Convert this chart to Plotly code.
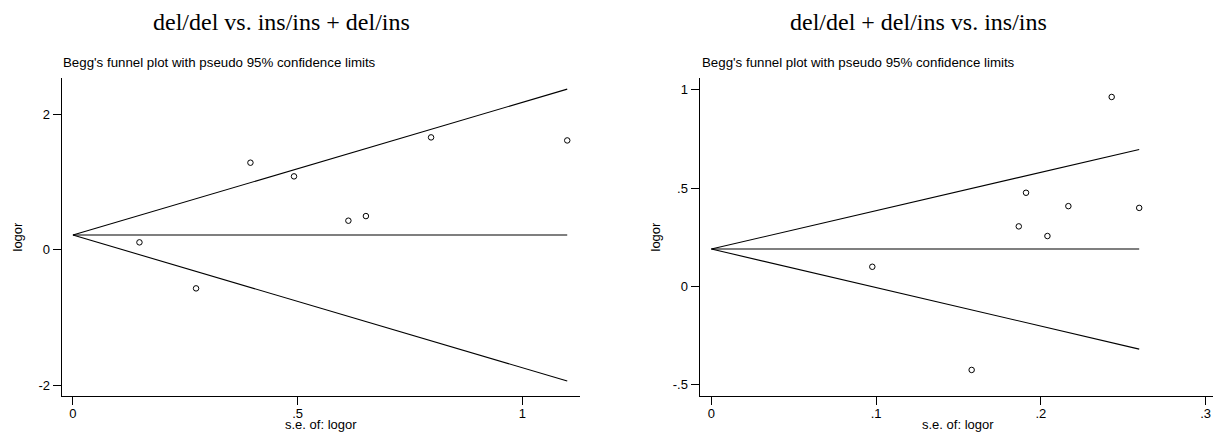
import plotly.graph_objects as go

W, H = 1213, 433

# ---- Panel 1: del/del vs. ins/ins + del/ins ----
se1 = [0.148, 0.274, 0.395, 0.492, 0.613, 0.652, 0.797, 1.100]
lor1 = [0.108, -0.572, 1.285, 1.083, 0.428, 0.496, 1.659, 1.614]
line_se1 = [0.0, 1.100]
upper1 = [0.216, 2.372]
lower1 = [0.216, -1.940]
center1 = [0.216, 0.216]

# ---- Panel 2: del/del + del/ins vs. ins/ins ----
se2 = [0.0977, 0.158, 0.1866, 0.191, 0.204, 0.2167, 0.243, 0.2597]
lor2 = [0.0996, -0.425, 0.305, 0.476, 0.256, 0.408, 0.963, 0.399]
line_se2 = [0.0, 0.2597]
upper2 = [0.190, 0.696]
lower2 = [0.190, -0.319]
center2 = [0.190, 0.190]

titles = ["del/del vs. ins/ins + del/ins", "del/del + del/ins vs. ins/ins"]
subtitle = "Begg's funnel plot with pseudo 95% confidence limits"
xlabel = "s.e. of: logor"
ylabel = "logor"

x1_ticks = [0, 0.5, 1]
x1_text = ["0", ".5", "1"]
y1_ticks = [-2, 0, 2]
y1_text = ["-2", "0", "2"]
x2_ticks = [0, 0.1, 0.2, 0.3]
x2_text = ["0", ".1", ".2", ".3"]
y2_ticks = [-0.5, 0, 0.5, 1]
y2_text = ["-.5", "0", ".5", "1"]

fig = go.Figure()

line_style = dict(color="black", width=1.1)
marker_style = dict(symbol="circle-open", size=5.5, color="black", line=dict(width=1))

for xs, ys in [(line_se1, upper1), (line_se1, lower1), (line_se1, center1)]:
    fig.add_trace(go.Scatter(x=xs, y=ys, mode="lines", line=line_style,
                             xaxis="x", yaxis="y", showlegend=False, hoverinfo="skip"))
fig.add_trace(go.Scatter(x=se1, y=lor1, mode="markers", marker=marker_style,
                         xaxis="x", yaxis="y", showlegend=False))

for xs, ys in [(line_se2, upper2), (line_se2, lower2), (line_se2, center2)]:
    fig.add_trace(go.Scatter(x=xs, y=ys, mode="lines", line=line_style,
                             xaxis="x2", yaxis="y2", showlegend=False, hoverinfo="skip"))
fig.add_trace(go.Scatter(x=se2, y=lor2, mode="markers", marker=marker_style,
                         xaxis="x2", yaxis="y2", showlegend=False))

def px(x):
    return x / W

def py(y):
    return 1 - y / H

tick_font = dict(family="Liberation Sans, Arial, sans-serif", size=13, color="black")

ydom = [py(395.7), py(78.3)]
dom1 = [px(61.7), px(579.8)]
dom2 = [px(699.5), 1.0]

common_ax = dict(showline=True, linecolor="black", linewidth=1, ticks="outside",
                 ticklen=8, tickwidth=1, tickcolor="black", showgrid=False,
                 zeroline=False, tickfont=tick_font)

fig.update_layout(
    width=W, height=H,
    margin=dict(l=0, r=0, t=0, b=0),
    paper_bgcolor="white", plot_bgcolor="white",
    xaxis=dict(domain=dom1, range=[-0.025, 1.128], tickvals=x1_ticks, ticktext=x1_text,
               anchor="y", **common_ax),
    yaxis=dict(domain=ydom, range=[-2.158, 2.532], tickvals=y1_ticks, ticktext=y1_text,
               anchor="x", **common_ax),
    xaxis2=dict(domain=dom2, range=[-0.0072, 0.3045], tickvals=x2_ticks, ticktext=x2_text,
                anchor="y2", **common_ax),
    yaxis2=dict(domain=ydom, range=[-0.556, 1.058], tickvals=y2_ticks, ticktext=y2_text,
                anchor="x2", **common_ax),
)

try:
    fig.update_xaxes(ticklabelstandoff=-2)
except Exception:
    pass

ann = []
# main titles
ann.append(dict(text=titles[0], x=px(281.3), y=py(21.5), xref="paper", yref="paper",
                xanchor="center", yanchor="middle", showarrow=False,
                font=dict(family="Liberation Serif, Times New Roman, serif", size=24, color="black")))
ann.append(dict(text=titles[1], x=px(918.5), y=py(21.5), xref="paper", yref="paper",
                xanchor="center", yanchor="middle", showarrow=False,
                font=dict(family="Liberation Serif, Times New Roman, serif", size=24, color="black")))
# subtitles
for xl in [61.2, 699.6]:
    ann.append(dict(text=subtitle, x=px(xl), y=py(62.5), xref="paper", yref="paper",
                    xanchor="left", yanchor="middle", showarrow=False,
                    font=dict(family="Liberation Sans, Arial, sans-serif", size=13.3, color="black")))
# x labels
for xc in [320.5, 957.5]:
    ann.append(dict(text=xlabel, x=px(xc), y=py(424.5), xref="paper", yref="paper",
                    xanchor="center", yanchor="middle", showarrow=False,
                    font=dict(family="Liberation Sans, Arial, sans-serif", size=13, color="black")))
# y labels
for xc in [16.5, 654.5]:
    ann.append(dict(text=ylabel, x=px(xc), y=py(237), xref="paper", yref="paper",
                    xanchor="center", yanchor="middle", showarrow=False, textangle=-90,
                    font=dict(family="Liberation Sans, Arial, sans-serif", size=13, color="black")))
fig.update_layout(annotations=ann)

fig.write_html("out.html")
